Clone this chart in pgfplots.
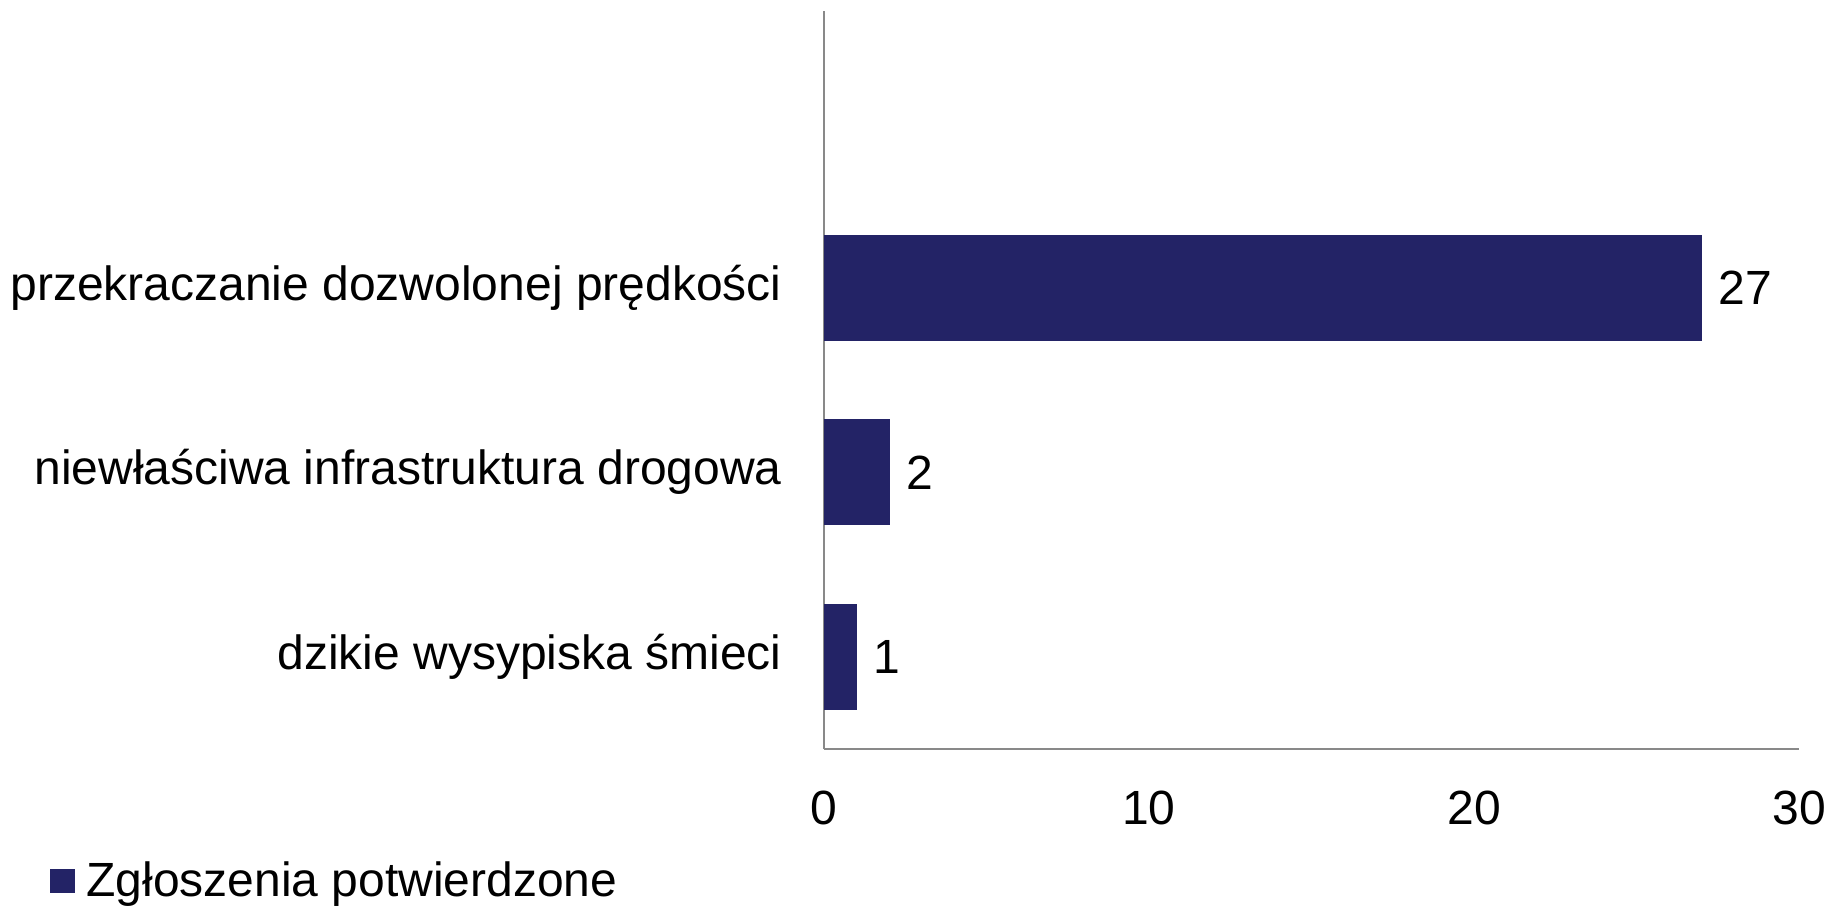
\documentclass[border=0pt]{standalone}
\usepackage{pgfplots}
\pgfplotsset{compat=1.18}
\usepackage{fontspec}
\setmainfont{Liberation Sans}
\definecolor{barblue}{RGB}{35,35,102}
\definecolor{axgray}{RGB}{137,137,137}
\newcommand{\bigf}{\fontsize{24}{28}\selectfont}
\begin{document}
\begin{tikzpicture}
\useasboundingbox (0,0) rectangle (915pt,453pt);
\begin{axis}[
  at={(412pt,78.5pt)}, anchor=south west,
  scale only axis, width=487.5pt, height=369pt,
  xbar, bar width=0.57,
  xmin=0, xmax=30, ymin=-0.5, ymax=3.5,
  xtick={0,10,20,30}, ytick={0,1,2},
  yticklabels={dzikie wysypiska śmieci, niewłaściwa infrastruktura drogowa, przekraczanie dozwolonej prędkości},
  axis x line*=bottom, axis y line*=left,
  axis line style={axgray, line width=1pt},
  major tick length=0pt,
  tick style={draw=none},
  /pgf/number format/assume math mode=true,
  tick label style={font=\bigf, black},
  xticklabel style={anchor=north, inner sep=0pt, yshift=-21pt},
  yticklabel style={anchor=east, inner sep=0pt, xshift=-21pt},
  nodes near coords,
  nodes near coords style={anchor=west, inner sep=0pt, xshift=8.5pt, black, font=\bigf, /pgf/number format/assume math mode=true},
  legend style={at={(-0.7942,-0.1789)}, anchor=west, draw=none, fill=none, inner sep=0pt, font=\bigf, legend cell align=left},
  legend image code/.code={\fill[barblue, draw=none] (0pt,-6.2pt) rectangle (12.4pt,6.2pt); \path[draw=none, fill=none] (12.4pt,0pt) -- (16.2pt,0pt);},
]
\addplot[fill=barblue, draw=barblue] coordinates {(1,0) (2,1) (27,2)};
\addlegendentry{Zgłoszenia potwierdzone}
\end{axis}
\end{tikzpicture}
\end{document}
